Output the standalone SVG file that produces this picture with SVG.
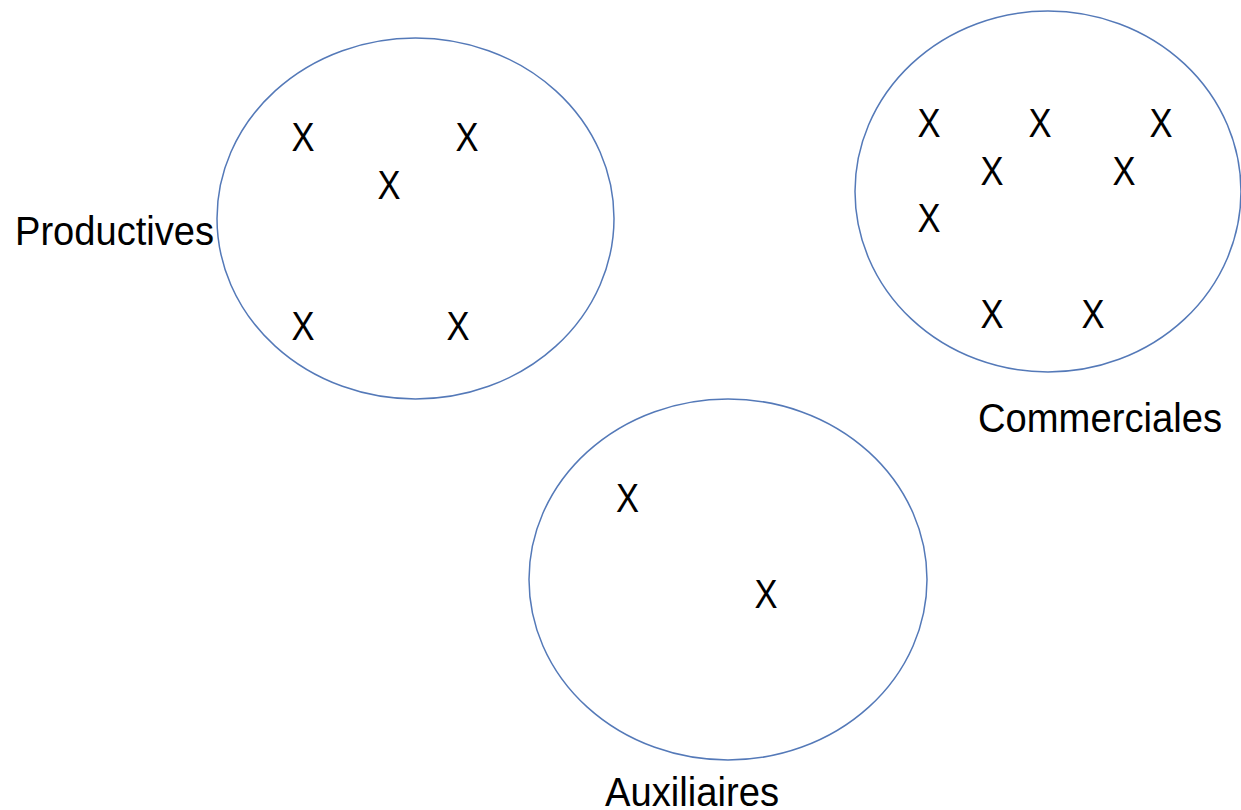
<svg xmlns="http://www.w3.org/2000/svg" width="1241" height="810" viewBox="0 0 1241 810">
<style>
.set{fill:none;stroke:#5479b8;stroke-width:1.5}
text{font-family:"Liberation Sans",Arial,sans-serif;font-size:40px;fill:#000}
.x{text-anchor:middle}
</style>
<rect width="1241" height="810" fill="#fff"/>
<g id="productives">
<ellipse class="set" cx="415.5" cy="218.5" rx="198.5" ry="180.5"/>
<text x="15" y="245" textLength="199" lengthAdjust="spacingAndGlyphs">Productives</text>
<text class="x" x="303" y="151" textLength="23" lengthAdjust="spacingAndGlyphs">X</text>
<text class="x" x="467" y="151" textLength="23" lengthAdjust="spacingAndGlyphs">X</text>
<text class="x" x="389" y="199" textLength="23" lengthAdjust="spacingAndGlyphs">X</text>
<text class="x" x="303" y="340" textLength="23" lengthAdjust="spacingAndGlyphs">X</text>
<text class="x" x="458" y="340" textLength="23" lengthAdjust="spacingAndGlyphs">X</text>
</g>
<g id="commerciales">
<ellipse class="set" cx="1048" cy="191.5" rx="193" ry="180.5"/>
<text x="978" y="432" textLength="244" lengthAdjust="spacingAndGlyphs">Commerciales</text>
<text class="x" x="929" y="137" textLength="23" lengthAdjust="spacingAndGlyphs">X</text>
<text class="x" x="1040" y="137" textLength="23" lengthAdjust="spacingAndGlyphs">X</text>
<text class="x" x="1161" y="137" textLength="23" lengthAdjust="spacingAndGlyphs">X</text>
<text class="x" x="992" y="185" textLength="23" lengthAdjust="spacingAndGlyphs">X</text>
<text class="x" x="1124" y="185" textLength="23" lengthAdjust="spacingAndGlyphs">X</text>
<text class="x" x="929" y="232" textLength="23" lengthAdjust="spacingAndGlyphs">X</text>
<text class="x" x="992" y="328" textLength="23" lengthAdjust="spacingAndGlyphs">X</text>
<text class="x" x="1093" y="328" textLength="23" lengthAdjust="spacingAndGlyphs">X</text>
</g>
<g id="auxiliaires">
<ellipse class="set" cx="728" cy="579.5" rx="199" ry="180.5"/>
<text x="605" y="806" textLength="174" lengthAdjust="spacingAndGlyphs">Auxiliaires</text>
<text class="x" x="627.5" y="512" textLength="23" lengthAdjust="spacingAndGlyphs">X</text>
<text class="x" x="766" y="608" textLength="23" lengthAdjust="spacingAndGlyphs">X</text>
</g>
<g id="connectors"/>
</svg>
